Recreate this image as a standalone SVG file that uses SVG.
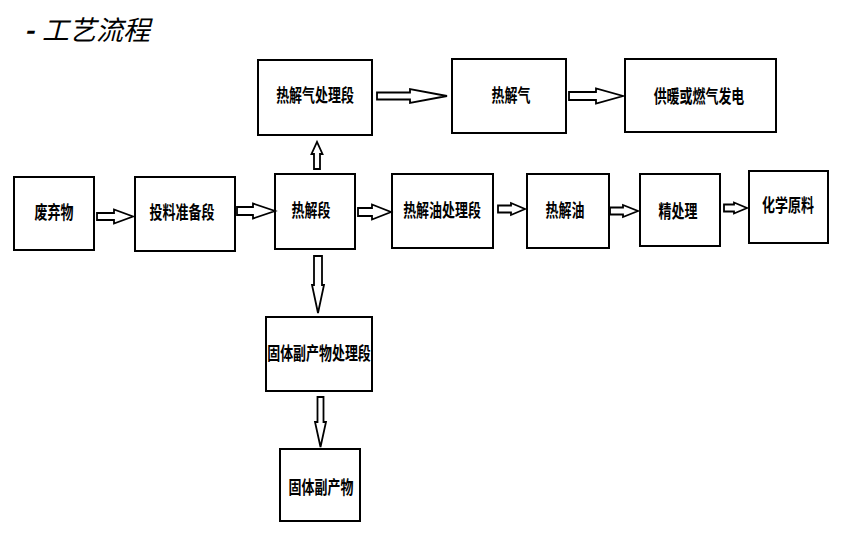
<svg xmlns="http://www.w3.org/2000/svg" width="849" height="541" viewBox="0 0 849 541">
<style>
.box{fill:#fff;stroke:#000;stroke-width:2}
.lbl{font-family:"Noto Sans CJK SC","Noto Sans",sans-serif;font-weight:bold;font-size:18px;fill:#000;text-anchor:middle;dominant-baseline:central}
.arr{fill:#fff;stroke:#000;stroke-width:1.8;stroke-linejoin:miter}
.title{font-family:"Noto Sans CJK SC","Noto Sans",sans-serif;font-style:italic;font-size:27px;fill:#000;dominant-baseline:central}
</style>
<rect width="849" height="541" fill="#fff"/>
<text class="title" x="24" y="28"><tspan font-weight="bold">-</tspan><tspan x="42">工艺流程</tspan></text>

<g id="n1"><rect class="box" x="14" y="177" width="80" height="73"/><text class="lbl" transform="translate(54,212) scale(0.72,1)">废弃物</text></g>
<g id="n2"><rect class="box" x="135" y="177" width="100" height="74"/><text class="lbl" transform="translate(182,212) scale(0.72,1)">投料准备段</text></g>
<g id="n3"><rect class="box" x="275" y="174" width="80" height="75"/><text class="lbl" transform="translate(311,210) scale(0.72,1)">热解段</text></g>
<g id="n4"><rect class="box" x="392" y="174" width="101" height="74"/><text class="lbl" transform="translate(442,210) scale(0.72,1)">热解油处理段</text></g>
<g id="n5"><rect class="box" x="527" y="174" width="82" height="74"/><text class="lbl" transform="translate(565,210) scale(0.72,1)">热解油</text></g>
<g id="n6"><rect class="box" x="640" y="174" width="80" height="72"/><text class="lbl" transform="translate(678,211) scale(0.72,1)">精处理</text></g>
<g id="n7"><rect class="box" x="749" y="171" width="79" height="72"/><text class="lbl" transform="translate(788,205) scale(0.72,1)">化学原料</text></g>
<g id="n8"><rect class="box" x="258" y="60" width="114" height="75"/><text class="lbl" transform="translate(315,95) scale(0.72,1)">热解气处理段</text></g>
<g id="n9"><rect class="box" x="452" y="59" width="114" height="74"/><text class="lbl" transform="translate(511,95) scale(0.72,1)">热解气</text></g>
<g id="n10"><rect class="box" x="625" y="59" width="151" height="73"/><text class="lbl" transform="translate(699,96) scale(0.72,1)">供暖或燃气发电</text></g>
<g id="n11"><rect class="box" x="266" y="317" width="106" height="74"/><text class="lbl" transform="translate(319,353) scale(0.72,1)">固体副产物处理段</text></g>
<g id="n12"><rect class="box" x="280" y="449" width="80" height="72"/><text class="lbl" transform="translate(321,487) scale(0.72,1)">固体副产物</text></g>

<g id="connectors">
<path class="arr" d="M97,213 L114,213 L114,209.5 L133,216.5 L114,223.5 L114,220 L97,220 Z"/>
<path class="arr" d="M237,207 L253,207 L253,203.5 L275,211 L253,218.5 L253,215 L237,215 Z"/>
<path class="arr" d="M358,208 L372,208 L372,204.5 L391,212 L372,219.5 L372,216 L358,216 Z"/>
<path class="arr" d="M498,205.5 L511,205.5 L511,203 L525,209 L511,215 L511,212.5 L498,212.5 Z"/>
<path class="arr" d="M610,207.5 L623,207.5 L623,205 L638,211 L623,217 L623,214.5 L610,214.5 Z"/>
<path class="arr" d="M724,204.5 L734,204.5 L734,202.5 L747,208 L734,213.5 L734,211.5 L724,211.5 Z"/>
<path class="arr" d="M377,92.5 L410,92.5 L410,89 L447,96 L410,103 L410,99.5 L377,99.5 Z"/>
<path class="arr" d="M569,92 L596,92 L596,88.5 L623,96 L596,103.5 L596,100 L569,100 Z"/>
<path class="arr" d="M314,169 L314,154 L311.5,154 L317,142 L322.5,154 L320,154 L320,169 Z"/>
<path class="arr" d="M314,256 L322,256 L322,285 L324,285 L318,313 L312,285 L314,285 Z"/>
<path class="arr" d="M317.5,397 L323.5,397 L323.5,422 L326,422 L320.5,447 L315,422 L317.5,422 Z"/>
</g>
</svg>
